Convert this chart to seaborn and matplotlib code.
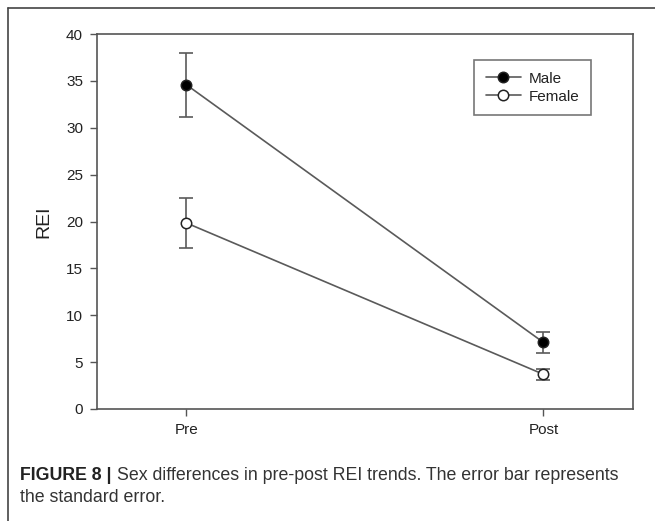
import matplotlib
matplotlib.use("Agg")
import matplotlib.pyplot as plt
import seaborn as sns
import pandas as pd
from matplotlib.lines import Line2D

# Data
phases = ["Pre", "Post"]
male_mean = [34.6, 7.1]
male_se = [3.4, 1.15]
female_mean = [19.85, 3.7]
female_se = [2.7, 0.6]
groups = ["Male", "Female"]
y_ticks = [0, 5, 10, 15, 20, 25, 30, 35, 40]

df = pd.DataFrame({
    "Phase": phases * 2,
    "REI": male_mean + female_mean,
    "SE": male_se + female_se,
    "Sex": ["Male"] * 2 + ["Female"] * 2,
})

sns.set_theme(style="white")
plt.rcParams["font.family"] = ["Liberation Sans", "DejaVu Sans"]

fig = plt.figure(figsize=(6.55, 5.21), dpi=100)
ax = fig.add_axes([0.148, 0.215, 0.818, 0.7197])

line_col = "#5a5a5a"
face = {"Male": "black", "Female": "white"}

for sex in groups:
    sub = df[df["Sex"] == sex]
    ax.errorbar(sub["Phase"], sub["REI"], yerr=sub["SE"], fmt="none",
                ecolor=line_col, elinewidth=1.2, capsize=5, capthick=1.2, zorder=2)

sns.lineplot(data=df, x="Phase", y="REI", hue="Sex", hue_order=groups,
             palette={"Male": line_col, "Female": line_col}, linewidth=1.2,
             legend=False, ax=ax, zorder=3, sort=False)
for sex in groups:
    sub = df[df["Sex"] == sex]
    ax.plot(sub["Phase"], sub["REI"], linestyle="none", marker="o", markersize=7.5,
            markerfacecolor=face[sex], markeredgecolor="#222222", markeredgewidth=1.1, zorder=4)

ax.set_xlim(-0.25, 1.25)
ax.set_ylim(0, 40)
ax.set_yticks(y_ticks)
ax.set_xlabel("")
ax.set_ylabel("REI", fontsize=14, color="#222222", labelpad=10)
for s in ax.spines.values():
    s.set_color("#555555")
    s.set_linewidth(1.2)
ax.tick_params(axis="both", which="both", direction="out", length=5, width=1,
               color="#555555", labelsize=11, labelcolor="#222222", pad=5,
               left=True, bottom=True, top=False, right=False)

handles = [Line2D([0], [0], color=line_col, lw=1.2, marker="o", markersize=7.5,
                  markerfacecolor=face[s], markeredgecolor="#222222", markeredgewidth=1.1)
           for s in groups]
leg = ax.legend(handles, groups, loc="upper right", bbox_to_anchor=(0.9216, 0.930),
                fontsize=11, frameon=True, fancybox=False, handlelength=2.3,
                handletextpad=0.5, labelspacing=0.25, borderpad=0.75, borderaxespad=0)
leg.get_frame().set_edgecolor("#555555")
leg.get_frame().set_linewidth(1.2)
for t in leg.get_texts():
    t.set_color("#222222")

# outer frame lines (top and left)
fig.add_artist(Line2D([8 / 655, 1], [1 - 8 / 521, 1 - 8 / 521], transform=fig.transFigure,
                      color="#444444", lw=1.2))
fig.add_artist(Line2D([8 / 655, 8 / 655], [0, 1 - 8 / 521], transform=fig.transFigure,
                      color="#444444", lw=1.2))

fig.text(20 / 655, 1 - 475 / 521, "FIGURE 8 |", fontsize=12.8, fontweight="bold",
         color="#222222", va="center", ha="left")
fig.text(117 / 655, 1 - 475 / 521,
         "Sex differences in pre-post REI trends. The error bar represents",
         fontsize=12.8, color="#333333", va="center", ha="left")
fig.text(20 / 655, 1 - 498 / 521, "the standard error.", fontsize=12.8,
         color="#333333", va="center", ha="left")

fig.savefig("out.png", dpi=100)
